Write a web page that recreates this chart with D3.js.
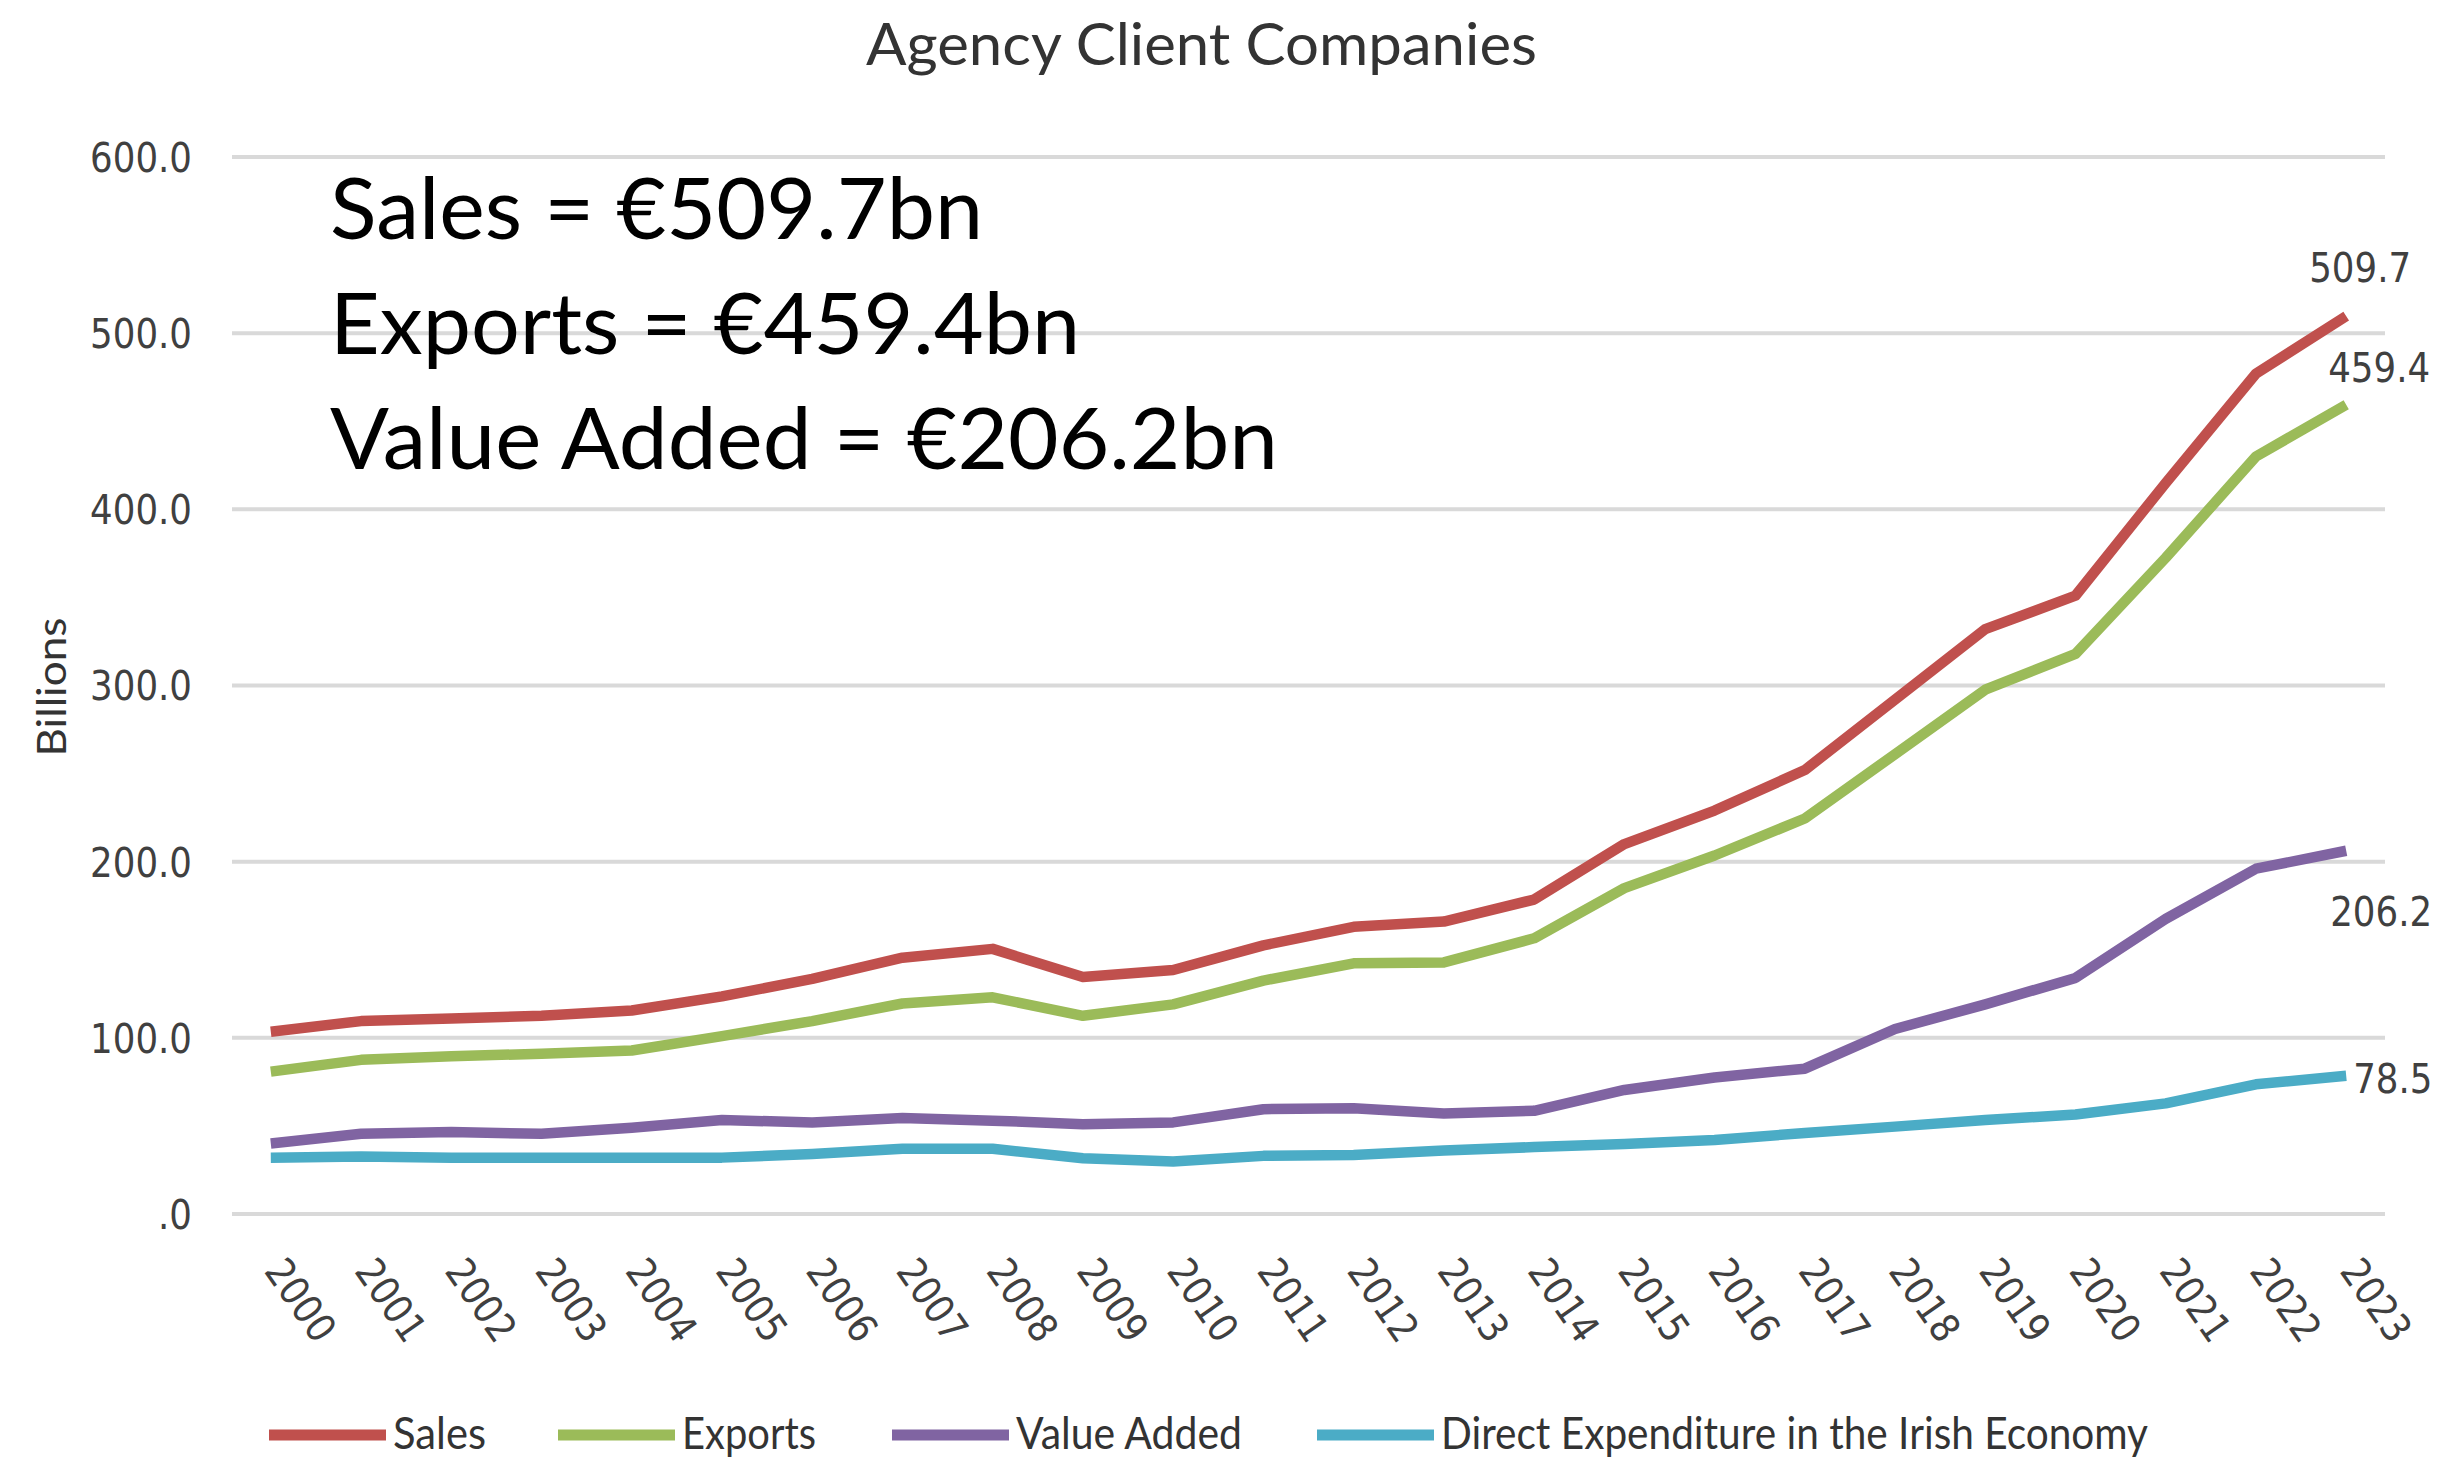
<!DOCTYPE html>
<html>
<head>
<meta charset="utf-8">
<script src="https://cdn.jsdelivr.net/npm/d3@7"></script>
<style>
  html, body { margin: 0; padding: 0; background: #ffffff; }
  svg { display: block; }
</style>
</head>
<body>
<svg id="chart" width="2445" height="1458"></svg>
<script>
// ---------------- DATA ----------------
const years = ["2000","2001","2002","2003","2004","2005","2006","2007","2008","2009","2010","2011",
               "2012","2013","2014","2015","2016","2017","2018","2019","2020","2021","2022","2023"];
const sales = [103.5,109.5,111.0,112.5,115.5,123.5,133.5,145.5,150.5,134.5,138.5,152.5,
               163.0,166.0,178.5,210.0,229.0,252.0,292.0,332.0,351.0,415.0,477.0,509.7];
const exportsV = [80.8,87.5,89.5,91.0,92.8,101.0,109.5,119.5,123.0,112.5,119.0,132.5,
                  142.3,142.8,156.5,185.0,203.5,224.5,261.0,297.6,318.0,372.5,430.0,459.4];
const valueAdded = [40.0,45.5,46.5,45.5,49.0,53.3,52.0,54.5,53.0,51.0,52.0,59.5,
                    60.0,57.1,58.6,70.4,77.5,82.5,105.0,119.0,134.0,167.5,196.0,206.2];
const directExp = [32.0,32.6,32.0,32.0,32.0,32.0,34.0,37.0,37.0,31.6,29.8,33.0,
                   33.5,36.0,38.0,39.7,42.0,46.0,49.6,53.3,56.5,62.8,73.6,78.5];
const seriesNames = ["Sales","Exports","Value Added","Direct Expenditure in the Irish Economy"];
const seriesColors = ["#C0504D","#9BBB59","#8064A2","#4BACC6"];
const yTicks = [0,100,200,300,400,500,600];
const endLabels = ["509.7","459.4","206.2","78.5"];
const titleText = "Agency Client Companies";
const yAxisTitle = "Billions";
const annotations = ["Sales = €509.7bn","Exports = €459.4bn","Value Added = €206.2bn"];

// ---------------- LAYOUT ----------------
const svg = d3.select("#chart");
const gridLeft = 232, gridRight = 2385, yTop = 157, yBottom = 1214;
const labelFont = "'DejaVu Sans', Verdana, sans-serif";
const textFont = "Lato, 'Open Sans', sans-serif";
const condense = 0.89;

const x = d3.scalePoint().domain(years).range([gridLeft, gridRight]).padding(0.43);
const y = d3.scaleLinear().domain([0, 600]).range([yBottom, yTop]);

function squeeze(sel, factor) {
  sel.each(function() {
    const w = this.getComputedTextLength();
    d3.select(this).attr("textLength", w * factor).attr("lengthAdjust", "spacingAndGlyphs");
  });
}
function fitWidth(sel, w) {
  sel.attr("textLength", w).attr("lengthAdjust", "spacingAndGlyphs");
}

// gridlines
svg.append("g").selectAll("line").data(yTicks).join("line")
  .attr("x1", gridLeft).attr("x2", gridRight)
  .attr("y1", d => y(d)).attr("y2", d => y(d))
  .attr("stroke", "#d9d9d9").attr("stroke-width", 4);

// y axis
const yAxis = svg.append("g").attr("transform", `translate(${gridLeft},0)`)
  .call(d3.axisLeft(y).tickValues(yTicks).tickSize(0).tickPadding(40)
    .tickFormat(d => d === 0 ? ".0" : d.toFixed(1)));
yAxis.select(".domain").remove();
yAxis.selectAll("text")
  .attr("font-family", labelFont).attr("font-size", 40).attr("fill", "#404040")
  .attr("dy", "0.36em")
  .call(squeeze, condense);

// x axis
const xAxis = svg.append("g").attr("transform", `translate(0,${yBottom})`)
  .call(d3.axisBottom(x).tickSize(0));
xAxis.select(".domain").remove();
xAxis.selectAll("text")
  .attr("font-family", labelFont).attr("font-size", 40).attr("fill", "#404040")
  .attr("text-anchor", "start").attr("x", 0).attr("y", 0).attr("dy", 0)
  .attr("transform", "translate(-8,57) rotate(55)")
  .call(squeeze, condense);

// lines
const allSeries = [sales, exportsV, valueAdded, directExp];
const line = d3.line().x((d, i) => x(years[i])).y(d => y(d));
svg.append("g").selectAll("path").data(allSeries).join("path")
  .attr("d", d => line(d))
  .attr("fill", "none")
  .attr("stroke", (d, i) => seriesColors[i])
  .attr("stroke-width", 10.5)
  .attr("stroke-linejoin", "round")
  .attr("stroke-linecap", "butt");

// end labels
const endOffsets = [[-37, -34], [-18, -22.5], [-16, 75], [7, 17]];
svg.append("g").selectAll("text").data(endLabels).join("text")
  .attr("x", (d, i) => x(years[years.length - 1]) + endOffsets[i][0])
  .attr("y", (d, i) => y(allSeries[i][allSeries[i].length - 1]) + endOffsets[i][1])
  .attr("font-family", labelFont).attr("font-size", 40).attr("fill", "#404040")
  .text(d => d)
  .call(squeeze, condense);

// title
svg.append("text")
  .attr("x", 866).attr("y", 65)
  .attr("font-family", textFont).attr("font-size", 58).attr("fill", "#333333")
  .text(titleText)
  .call(fitWidth, 671);

// y axis title
svg.append("text")
  .attr("transform", "translate(66,687) rotate(-90)")
  .attr("text-anchor", "middle")
  .attr("font-family", textFont).attr("font-size", 41).attr("fill", "#333333")
  .text(yAxisTitle)
  .call(fitWidth, 139);

// annotations
const annotWidths = [653, 750, 948];
svg.append("g").selectAll("text").data(annotations).join("text")
  .attr("x", 330).attr("y", (d, i) => 239 + i * 115)
  .attr("font-family", textFont).attr("font-size", 85).attr("fill", "#000000")
  .text(d => d)
  .each(function(d, i) { d3.select(this).call(fitWidth, annotWidths[i]); });

// legend
const legendSwatchX = [269, 558, 892, 1317];
const legendLabelW = [93, 134, 226, 707];
const legendY = 1435;
const lg = svg.append("g");
seriesNames.forEach((name, i) => {
  lg.append("line")
    .attr("x1", legendSwatchX[i]).attr("x2", legendSwatchX[i] + 117)
    .attr("y1", legendY).attr("y2", legendY)
    .attr("stroke", seriesColors[i]).attr("stroke-width", 11);
  lg.append("text")
    .attr("x", legendSwatchX[i] + 124).attr("y", legendY + 14)
    .attr("font-family", textFont).attr("font-size", 44).attr("fill", "#333333")
    .text(name)
    .call(fitWidth, legendLabelW[i]);
});
</script>
</body>
</html>
